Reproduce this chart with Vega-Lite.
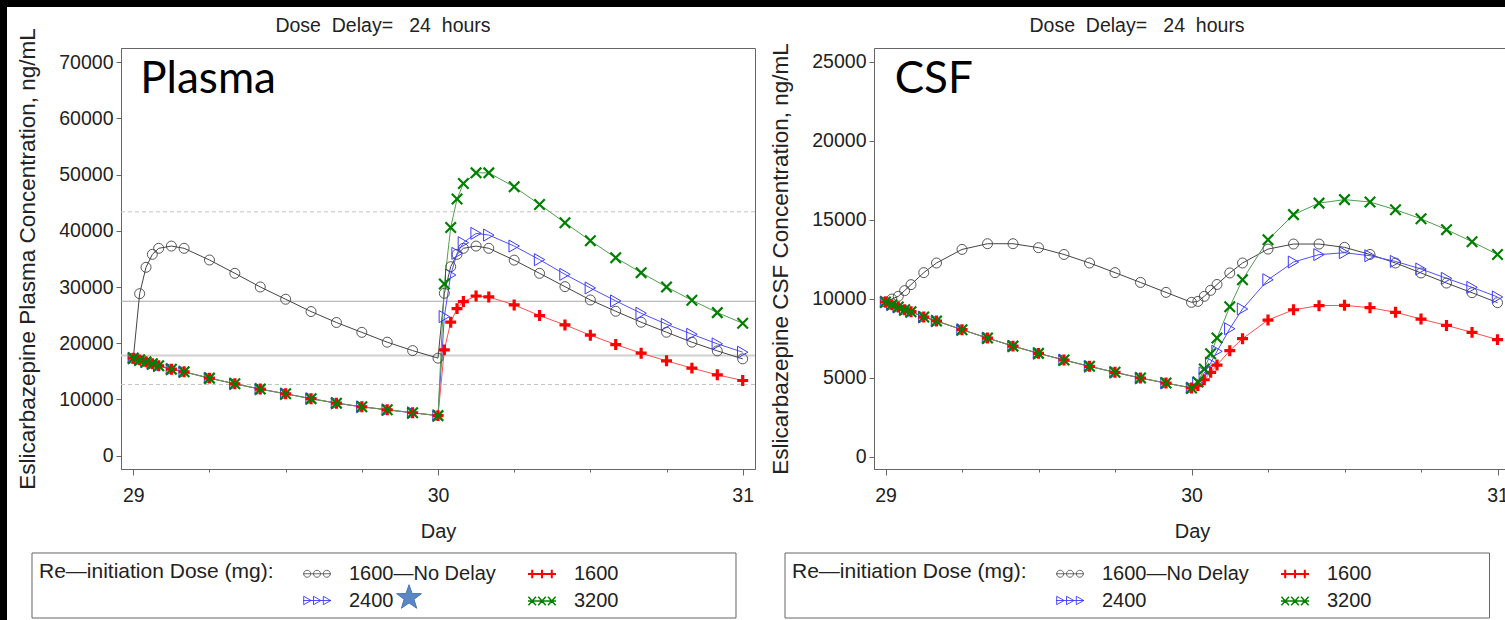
{"$schema":"https://vega.github.io/schema/vega-lite/v6.json","background":"white","padding":{"left":-1,"top":-1,"right":0,"bottom":0},"autosize":{"type":"pad"},"bounds":"flush","spacing":119,
"config":{"font":"Liberation Sans","view":{"stroke":"#666","strokeWidth":1},
"axis":{"grid":false,"domainColor":"#666","tickColor":"#666","labelColor":"#222","titleColor":"#222","labelFontSize":19.5,"titleFontSize":22.5,"titleFontWeight":"normal","labelFont":"Liberation Sans","titleFont":"Liberation Sans","labelOverlap":false},
"legend":{"orient":"none","legendX":-88,"legendY":505,"columns":2,"titleOrient":"left","titleAnchor":"middle","titleLineHeight":27,"titleFontSize":21,"titleFontWeight":"normal","titleColor":"#222","titlePadding":28,"titleLimit":400,"labelFontSize":20,"labelColor":"#222","labelLimit":400,"labelOffset":17,"columnPadding":28,"rowPadding":2,"padding":6,"symbolSize":784,"gridAlign":"all"}},
"datasets":{
"plasma":[
{"day":29,"s":"1600—No Delay","conc":17300},{"day":29.0208,"s":"1600—No Delay","conc":28830},{"day":29.0417,"s":"1600—No Delay","conc":33520},{"day":29.0625,"s":"1600—No Delay","conc":35830},{"day":29.0833,"s":"1600—No Delay","conc":36900},{"day":29.125,"s":"1600—No Delay","conc":37300},{"day":29.1667,"s":"1600—No Delay","conc":36900},{"day":29.25,"s":"1600—No Delay","conc":34820},{"day":29.3333,"s":"1600—No Delay","conc":32450},{"day":29.4167,"s":"1600—No Delay","conc":30020},{"day":29.5,"s":"1600—No Delay","conc":27840},{"day":29.5833,"s":"1600—No Delay","conc":25650},{"day":29.6667,"s":"1600—No Delay","conc":23700},{"day":29.75,"s":"1600—No Delay","conc":21950},{"day":29.8333,"s":"1600—No Delay","conc":20200},{"day":29.9167,"s":"1600—No Delay","conc":18700},{"day":30,"s":"1600—No Delay","conc":17360},{"day":30.0208,"s":"1600—No Delay","conc":28900},{"day":30.0417,"s":"1600—No Delay","conc":33630},{"day":30.0625,"s":"1600—No Delay","conc":35830},{"day":30.0833,"s":"1600—No Delay","conc":36900},{"day":30.125,"s":"1600—No Delay","conc":37300},{"day":30.1667,"s":"1600—No Delay","conc":36900},{"day":30.25,"s":"1600—No Delay","conc":34800},{"day":30.3333,"s":"1600—No Delay","conc":32450},{"day":30.4167,"s":"1600—No Delay","conc":30080},{"day":30.5,"s":"1600—No Delay","conc":27710},{"day":30.5833,"s":"1600—No Delay","conc":25700},{"day":30.6667,"s":"1600—No Delay","conc":23750},{"day":30.75,"s":"1600—No Delay","conc":21970},{"day":30.8333,"s":"1600—No Delay","conc":20200},{"day":30.9167,"s":"1600—No Delay","conc":18650},{"day":31,"s":"1600—No Delay","conc":17230},
{"day":29,"s":"2400","conc":17360},{"day":29.0208,"s":"2400","conc":17050},{"day":29.0417,"s":"2400","conc":16700},{"day":29.0625,"s":"2400","conc":16350},{"day":29.0833,"s":"2400","conc":16000},{"day":29.125,"s":"2400","conc":15400},{"day":29.1667,"s":"2400","conc":14920},{"day":29.25,"s":"2400","conc":13800},{"day":29.3333,"s":"2400","conc":12790},{"day":29.4167,"s":"2400","conc":11850},{"day":29.5,"s":"2400","conc":11010},{"day":29.5833,"s":"2400","conc":10150},{"day":29.6667,"s":"2400","conc":9350},{"day":29.75,"s":"2400","conc":8700},{"day":29.8333,"s":"2400","conc":8170},{"day":29.9167,"s":"2400","conc":7640},{"day":30,"s":"2400","conc":7130},{"day":30.0208,"s":"2400","conc":24750},{"day":30.0417,"s":"2400","conc":32150},{"day":30.0625,"s":"2400","conc":36000},{"day":30.0833,"s":"2400","conc":37900},{"day":30.125,"s":"2400","conc":39560},{"day":30.1667,"s":"2400","conc":39260},{"day":30.25,"s":"2400","conc":37300},{"day":30.3333,"s":"2400","conc":34880},{"day":30.4167,"s":"2400","conc":32270},{"day":30.5,"s":"2400","conc":29850},{"day":30.5833,"s":"2400","conc":27540},{"day":30.6667,"s":"2400","conc":25350},{"day":30.75,"s":"2400","conc":23390},{"day":30.8333,"s":"2400","conc":21610},{"day":30.9167,"s":"2400","conc":19900},{"day":31,"s":"2400","conc":18420},
{"day":29,"s":"1600","conc":17360},{"day":29.0208,"s":"1600","conc":17050},{"day":29.0417,"s":"1600","conc":16700},{"day":29.0625,"s":"1600","conc":16350},{"day":29.0833,"s":"1600","conc":16000},{"day":29.125,"s":"1600","conc":15400},{"day":29.1667,"s":"1600","conc":14920},{"day":29.25,"s":"1600","conc":13800},{"day":29.3333,"s":"1600","conc":12790},{"day":29.4167,"s":"1600","conc":11850},{"day":29.5,"s":"1600","conc":11010},{"day":29.5833,"s":"1600","conc":10150},{"day":29.6667,"s":"1600","conc":9350},{"day":29.75,"s":"1600","conc":8700},{"day":29.8333,"s":"1600","conc":8170},{"day":29.9167,"s":"1600","conc":7640},{"day":30,"s":"1600","conc":7130},{"day":30.0208,"s":"1600","conc":18830},{"day":30.0417,"s":"1600","conc":23750},{"day":30.0625,"s":"1600","conc":26170},{"day":30.0833,"s":"1600","conc":27420},{"day":30.125,"s":"1600","conc":28420},{"day":30.1667,"s":"1600","conc":28250},{"day":30.25,"s":"1600","conc":26830},{"day":30.3333,"s":"1600","conc":24930},{"day":30.4167,"s":"1600","conc":23270},{"day":30.5,"s":"1600","conc":21440},{"day":30.5833,"s":"1600","conc":19780},{"day":30.6667,"s":"1600","conc":18240},{"day":30.75,"s":"1600","conc":16880},{"day":30.8333,"s":"1600","conc":15580},{"day":30.9167,"s":"1600","conc":14390},{"day":31,"s":"1600","conc":13380},
{"day":29,"s":"3200","conc":17360},{"day":29.0208,"s":"3200","conc":17050},{"day":29.0417,"s":"3200","conc":16700},{"day":29.0625,"s":"3200","conc":16350},{"day":29.0833,"s":"3200","conc":16000},{"day":29.125,"s":"3200","conc":15400},{"day":29.1667,"s":"3200","conc":14920},{"day":29.25,"s":"3200","conc":13800},{"day":29.3333,"s":"3200","conc":12790},{"day":29.4167,"s":"3200","conc":11850},{"day":29.5,"s":"3200","conc":11010},{"day":29.5833,"s":"3200","conc":10150},{"day":29.6667,"s":"3200","conc":9350},{"day":29.75,"s":"3200","conc":8700},{"day":29.8333,"s":"3200","conc":8170},{"day":29.9167,"s":"3200","conc":7640},{"day":30,"s":"3200","conc":7130},{"day":30.0208,"s":"3200","conc":30560},{"day":30.0417,"s":"3200","conc":40620},{"day":30.0625,"s":"3200","conc":45660},{"day":30.0833,"s":"3200","conc":48440},{"day":30.125,"s":"3200","conc":50330},{"day":30.1667,"s":"3200","conc":50330},{"day":30.25,"s":"3200","conc":47850},{"day":30.3333,"s":"3200","conc":44700},{"day":30.4167,"s":"3200","conc":41450},{"day":30.5,"s":"3200","conc":38250},{"day":30.5833,"s":"3200","conc":35230},{"day":30.6667,"s":"3200","conc":32570},{"day":30.75,"s":"3200","conc":30020},{"day":30.8333,"s":"3200","conc":27660},{"day":30.9167,"s":"3200","conc":25460},{"day":31,"s":"3200","conc":23570}],
"csf":[
{"day":29,"s":"1600—No Delay","conc":9790},{"day":29.0208,"s":"1600—No Delay","conc":9980},{"day":29.0417,"s":"1600—No Delay","conc":10150},{"day":29.0625,"s":"1600—No Delay","conc":10510},{"day":29.0833,"s":"1600—No Delay","conc":10890},{"day":29.125,"s":"1600—No Delay","conc":11650},{"day":29.1667,"s":"1600—No Delay","conc":12260},{"day":29.25,"s":"1600—No Delay","conc":13120},{"day":29.3333,"s":"1600—No Delay","conc":13480},{"day":29.4167,"s":"1600—No Delay","conc":13480},{"day":29.5,"s":"1600—No Delay","conc":13230},{"day":29.5833,"s":"1600—No Delay","conc":12800},{"day":29.6667,"s":"1600—No Delay","conc":12260},{"day":29.75,"s":"1600—No Delay","conc":11650},{"day":29.8333,"s":"1600—No Delay","conc":11030},{"day":29.9167,"s":"1600—No Delay","conc":10400},{"day":30,"s":"1600—No Delay","conc":9770},{"day":30.0208,"s":"1600—No Delay","conc":9830},{"day":30.0417,"s":"1600—No Delay","conc":10150},{"day":30.0625,"s":"1600—No Delay","conc":10530},{"day":30.0833,"s":"1600—No Delay","conc":10900},{"day":30.125,"s":"1600—No Delay","conc":11630},{"day":30.1667,"s":"1600—No Delay","conc":12260},{"day":30.25,"s":"1600—No Delay","conc":13140},{"day":30.3333,"s":"1600—No Delay","conc":13460},{"day":30.4167,"s":"1600—No Delay","conc":13460},{"day":30.5,"s":"1600—No Delay","conc":13250},{"day":30.5833,"s":"1600—No Delay","conc":12800},{"day":30.6667,"s":"1600—No Delay","conc":12260},{"day":30.75,"s":"1600—No Delay","conc":11630},{"day":30.8333,"s":"1600—No Delay","conc":10990},{"day":30.9167,"s":"1600—No Delay","conc":10380},{"day":31,"s":"1600—No Delay","conc":9750},
{"day":29,"s":"2400","conc":9790},{"day":29.0208,"s":"2400","conc":9620},{"day":29.0417,"s":"2400","conc":9470},{"day":29.0625,"s":"2400","conc":9300},{"day":29.0833,"s":"2400","conc":9180},{"day":29.125,"s":"2400","conc":8840},{"day":29.1667,"s":"2400","conc":8590},{"day":29.25,"s":"2400","conc":8040},{"day":29.3333,"s":"2400","conc":7510},{"day":29.4167,"s":"2400","conc":7000},{"day":29.5,"s":"2400","conc":6540},{"day":29.5833,"s":"2400","conc":6120},{"day":29.6667,"s":"2400","conc":5720},{"day":29.75,"s":"2400","conc":5340},{"day":29.8333,"s":"2400","conc":4980},{"day":29.9167,"s":"2400","conc":4660},{"day":30,"s":"2400","conc":4350},{"day":30.0208,"s":"2400","conc":4660},{"day":30.0417,"s":"2400","conc":5300},{"day":30.0625,"s":"2400","conc":5930},{"day":30.0833,"s":"2400","conc":6670},{"day":30.125,"s":"2400","conc":8100},{"day":30.1667,"s":"2400","conc":9350},{"day":30.25,"s":"2400","conc":11200},{"day":30.3333,"s":"2400","conc":12320},{"day":30.4167,"s":"2400","conc":12790},{"day":30.5,"s":"2400","conc":12910},{"day":30.5833,"s":"2400","conc":12720},{"day":30.6667,"s":"2400","conc":12360},{"day":30.75,"s":"2400","conc":11880},{"day":30.8333,"s":"2400","conc":11290},{"day":30.9167,"s":"2400","conc":10720},{"day":31,"s":"2400","conc":10110},
{"day":29,"s":"1600","conc":9790},{"day":29.0208,"s":"1600","conc":9620},{"day":29.0417,"s":"1600","conc":9470},{"day":29.0625,"s":"1600","conc":9300},{"day":29.0833,"s":"1600","conc":9180},{"day":29.125,"s":"1600","conc":8840},{"day":29.1667,"s":"1600","conc":8590},{"day":29.25,"s":"1600","conc":8040},{"day":29.3333,"s":"1600","conc":7510},{"day":29.4167,"s":"1600","conc":7000},{"day":29.5,"s":"1600","conc":6540},{"day":29.5833,"s":"1600","conc":6120},{"day":29.6667,"s":"1600","conc":5720},{"day":29.75,"s":"1600","conc":5340},{"day":29.8333,"s":"1600","conc":4980},{"day":29.9167,"s":"1600","conc":4660},{"day":30,"s":"1600","conc":4350},{"day":30.0208,"s":"1600","conc":4510},{"day":30.0417,"s":"1600","conc":4870},{"day":30.0625,"s":"1600","conc":5340},{"day":30.0833,"s":"1600","conc":5800},{"day":30.125,"s":"1600","conc":6710},{"day":30.1667,"s":"1600","conc":7470},{"day":30.25,"s":"1600","conc":8650},{"day":30.3333,"s":"1600","conc":9300},{"day":30.4167,"s":"1600","conc":9560},{"day":30.5,"s":"1600","conc":9580},{"day":30.5833,"s":"1600","conc":9430},{"day":30.6667,"s":"1600","conc":9140},{"day":30.75,"s":"1600","conc":8710},{"day":30.8333,"s":"1600","conc":8310},{"day":30.9167,"s":"1600","conc":7870},{"day":31,"s":"1600","conc":7410},
{"day":29,"s":"3200","conc":9790},{"day":29.0208,"s":"3200","conc":9620},{"day":29.0417,"s":"3200","conc":9470},{"day":29.0625,"s":"3200","conc":9300},{"day":29.0833,"s":"3200","conc":9180},{"day":29.125,"s":"3200","conc":8840},{"day":29.1667,"s":"3200","conc":8590},{"day":29.25,"s":"3200","conc":8040},{"day":29.3333,"s":"3200","conc":7510},{"day":29.4167,"s":"3200","conc":7000},{"day":29.5,"s":"3200","conc":6540},{"day":29.5833,"s":"3200","conc":6120},{"day":29.6667,"s":"3200","conc":5720},{"day":29.75,"s":"3200","conc":5340},{"day":29.8333,"s":"3200","conc":4980},{"day":29.9167,"s":"3200","conc":4660},{"day":30,"s":"3200","conc":4350},{"day":30.0208,"s":"3200","conc":4730},{"day":30.0417,"s":"3200","conc":5550},{"day":30.0625,"s":"3200","conc":6520},{"day":30.0833,"s":"3200","conc":7510},{"day":30.125,"s":"3200","conc":9490},{"day":30.1667,"s":"3200","conc":11200},{"day":30.25,"s":"3200","conc":13730},{"day":30.3333,"s":"3200","conc":15320},{"day":30.4167,"s":"3200","conc":16050},{"day":30.5,"s":"3200","conc":16270},{"day":30.5833,"s":"3200","conc":16120},{"day":30.6667,"s":"3200","conc":15630},{"day":30.75,"s":"3200","conc":15060},{"day":30.8333,"s":"3200","conc":14370},{"day":30.9167,"s":"3200","conc":13610},{"day":31,"s":"3200","conc":12800}]},
"hconcat":[
{"width":634,"height":421,
"encoding":{"x":{"field":"day","type":"quantitative","scale":{"domain":[28.9596,31.0404],"nice":false,"zero":false},"axis":{"title":"Day","titleFontSize":20,"values":[29,29.25,29.5,29.75,30,30.25,30.5,30.75,31],"tickCount":100,"tickSize":{"condition":{"test":"datum.value%1==0","value":6},"value":3},"labelExpr":"datum.value%1==0?''+datum.value:''","labelFlush":false,"labelPadding":11,"titlePadding":17}},
"y":{"field":"conc","type":"quantitative","scale":{"domain":[-2367,72544],"nice":false,"zero":false},"axis":{"title":"Eslicarbazepine Plasma Concentration, ng/mL","values":[0,10000,20000,30000,40000,50000,60000,70000],"format":"d","tickSize":5,"labelPadding":3,"titlePadding":19}}},
"layer":[
{"data":{"values":[{"day":28.5625,"day2":33.52,"conc":81085,"conc2":79840},{"day":28.5625,"day2":28.5855,"conc":81085,"conc2":-29235}]},"mark":{"type":"rect","color":"black"},"encoding":{"x2":{"field":"day2"},"y2":{"field":"conc2"}}},
{"data":{"values":[{"day":28.6675,"day2":30.978,"conc":-17313,"conc2":-28879}]},"mark":{"type":"rect","fill":null,"stroke":"#666","strokeWidth":1},"encoding":{"x2":{"field":"day2"},"y2":{"field":"conc2"}}},
{"data":{"values":[{"conc":43400},{"conc":12670}]},"mark":{"type":"rule","color":"#c4c4c4","strokeDash":[4,3],"strokeWidth":1},"encoding":{"x":null}},
{"data":{"values":[{"conc":27480}]},"mark":{"type":"rule","color":"#a8a8a8","strokeWidth":1},"encoding":{"x":null}},
{"data":{"values":[{"conc":17820}]},"mark":{"type":"rule","color":"#cfcfcf","strokeWidth":2},"encoding":{"x":null}},
{"data":{"name":"plasma"},"mark":{"type":"line","strokeWidth":1},"encoding":{"color":{"field":"s","type":"nominal","legend":null,"scale":{"domain":["1600—No Delay","1600","2400","3200"],"range":["#444444","#ff5050","#5050ff","#4f9f4f"]}}}},
{"data":{"name":"plasma"},"mark":{"type":"point","filled":false,"opacity":1},"encoding":{"color":{"field":"s","type":"nominal","legend":null,"scale":{"domain":["1600—No Delay","1600","2400","3200"],"range":["#444444","#ff0000","#3a3aff","#008000"]}},"shape":{"field":"s","type":"nominal","legend":null,"scale":{"domain":["1600—No Delay","1600","2400","3200"],"range":["circle","M-1,0L1,0M0,-1L0,1","triangle-right","M-1,-1L1,1M-1,1L1,-1"]}},"size":{"field":"s","type":"nominal","legend":null,"scale":{"type":"ordinal","domain":["1600—No Delay","1600","2400","3200"],"range":[100,120,144,110]}},"strokeWidth":{"field":"s","type":"nominal","legend":null,"scale":{"type":"ordinal","domain":["1600—No Delay","1600","2400","3200"],"range":[0.9,3.2,1,2.2]}}}},
{"data":{"values":[{"day":29.023,"conc":66900,"label":"Plasma"}]},"mark":{"type":"text","font":"Lato","fontSize":44,"align":"left","baseline":"middle","color":"black"},"encoding":{"text":{"field":"label"}}},
{"data":{"values":[{"day":29.8195,"conc":76460,"label":"Dose\u00a0\u00a0Delay=\u00a0\u00a0\u00a024\u00a0\u00a0hours"}]},"mark":{"type":"text","fontSize":19.5,"color":"#222"},"encoding":{"text":{"field":"label"}}},
{"data":{"values":[{"day":29.905,"conc":-25270}]},"mark":{"type":"point","shape":"M0,-1L0.235,-0.324L0.951,-0.309L0.38,0.124L0.588,0.809L0,0.4L-0.588,0.809L-0.38,0.124L-0.951,-0.309L-0.235,-0.324Z","filled":true,"size":676,"color":"#5b87c6","opacity":1,"stroke":"#4a76b5","strokeWidth":1}},
{"data":{"name":"plasma"},"transform":[{"filter":"false"}],"mark":{"type":"point","filled":false,"opacity":1},"encoding":{"color":{"field":"s","type":"nominal","title":["Re—initiation Dose (mg):"," "],"scale":{"domain":["1600—No Delay","2400","1600","3200"],"range":["#444444","#3a3aff","#ff0000","#008000"]}},"shape":{"field":"s","type":"nominal","title":["Re—initiation Dose (mg):"," "],"scale":{"domain":["1600—No Delay","2400","1600","3200"],"range":["M-1,0L1,0M-.95,0A.25,.25 0 1,1 -.45,0A.25,.25 0 1,1 -.95,0M-.25,0A.25,.25 0 1,1 .25,0A.25,.25 0 1,1 -.25,0M.45,0A.25,.25 0 1,1 .95,0A.25,.25 0 1,1 .45,0","M-1,0L1,0M-.95,-.3L-.42,0L-.95,.3ZM-.25,-.3L.28,0L-.25,.3ZM.45,-.3L.98,0L.45,.3Z","M-1,0L1,0M-.7,-.3L-.7,.3M0,-.3L0,.3M.7,-.3L.7,.3","M-1,0L1,0M-.97,-.3L-.43,.3M-.97,.3L-.43,-.3M-.27,-.3L.27,.3M-.27,.3L.27,-.3M.43,-.3L.97,.3M.43,.3L.97,-.3"]}},"strokeWidth":{"field":"s","type":"nominal","title":["Re—initiation Dose (mg):"," "],"scale":{"type":"ordinal","domain":["1600—No Delay","2400","1600","3200"],"range":[0.8,0.9,2,1.5]}}}}
],
"resolve":{"scale":{"color":"independent","shape":"independent","size":"independent","strokeWidth":"independent"}}},
{"width":636,"height":421,
"encoding":{"x":{"field":"day","type":"quantitative","scale":{"domain":[28.9624,31.0408],"nice":false,"zero":false},"axis":{"title":"Day","titleFontSize":20,"values":[29,29.25,29.5,29.75,30,30.25,30.5,30.75,31],"tickCount":100,"tickSize":{"condition":{"test":"datum.value%1==0","value":6},"value":3},"labelExpr":"datum.value%1==0?''+datum.value:''","labelFlush":false,"labelPadding":11,"titlePadding":17}},
"y":{"field":"conc","type":"quantitative","scale":{"domain":[-778,25867],"nice":false,"zero":false},"axis":{"title":"Eslicarbazepine CSF Concentration, ng/mL","values":[0,5000,10000,15000,20000,25000],"format":"d","tickSize":5,"labelPadding":3,"titlePadding":19}}},
"layer":[
{"data":{"values":[{"day":28.6716,"day2":30.9739,"conc":-6095,"conc2":-10209}]},"mark":{"type":"rect","fill":null,"stroke":"#666","strokeWidth":1},"encoding":{"x2":{"field":"day2"},"y2":{"field":"conc2"}}},
{"data":{"name":"csf"},"mark":{"type":"line","strokeWidth":1},"encoding":{"color":{"field":"s","type":"nominal","legend":null,"scale":{"domain":["1600—No Delay","1600","2400","3200"],"range":["#444444","#ff5050","#5050ff","#4f9f4f"]}}}},
{"data":{"name":"csf"},"mark":{"type":"point","filled":false,"opacity":1},"encoding":{"color":{"field":"s","type":"nominal","legend":null,"scale":{"domain":["1600—No Delay","1600","2400","3200"],"range":["#444444","#ff0000","#3a3aff","#008000"]}},"shape":{"field":"s","type":"nominal","legend":null,"scale":{"domain":["1600—No Delay","1600","2400","3200"],"range":["circle","M-1,0L1,0M0,-1L0,1","triangle-right","M-1,-1L1,1M-1,1L1,-1"]}},"size":{"field":"s","type":"nominal","legend":null,"scale":{"type":"ordinal","domain":["1600—No Delay","1600","2400","3200"],"range":[100,120,144,110]}},"strokeWidth":{"field":"s","type":"nominal","legend":null,"scale":{"type":"ordinal","domain":["1600—No Delay","1600","2400","3200"],"range":[0.9,3.2,1,2.2]}}}},
{"data":{"values":[{"day":29.03,"conc":23860,"label":"CSF"}]},"mark":{"type":"text","font":"Lato","fontSize":44,"align":"left","baseline":"middle","color":"black"},"encoding":{"text":{"field":"label"}}},
{"data":{"values":[{"day":29.822,"conc":27260,"label":"Dose\u00a0\u00a0Delay=\u00a0\u00a0\u00a024\u00a0\u00a0hours"}]},"mark":{"type":"text","fontSize":19.5,"color":"#222"},"encoding":{"text":{"field":"label"}}},
{"data":{"name":"csf"},"transform":[{"filter":"false"}],"mark":{"type":"point","filled":false,"opacity":1},"encoding":{"color":{"field":"s","type":"nominal","title":["Re—initiation Dose (mg):"," "],"scale":{"domain":["1600—No Delay","2400","1600","3200"],"range":["#444444","#3a3aff","#ff0000","#008000"]}},"shape":{"field":"s","type":"nominal","title":["Re—initiation Dose (mg):"," "],"scale":{"domain":["1600—No Delay","2400","1600","3200"],"range":["M-1,0L1,0M-.95,0A.25,.25 0 1,1 -.45,0A.25,.25 0 1,1 -.95,0M-.25,0A.25,.25 0 1,1 .25,0A.25,.25 0 1,1 -.25,0M.45,0A.25,.25 0 1,1 .95,0A.25,.25 0 1,1 .45,0","M-1,0L1,0M-.95,-.3L-.42,0L-.95,.3ZM-.25,-.3L.28,0L-.25,.3ZM.45,-.3L.98,0L.45,.3Z","M-1,0L1,0M-.7,-.3L-.7,.3M0,-.3L0,.3M.7,-.3L.7,.3","M-1,0L1,0M-.97,-.3L-.43,.3M-.97,.3L-.43,-.3M-.27,-.3L.27,.3M-.27,.3L.27,-.3M.43,-.3L.97,.3M.43,.3L.97,-.3"]}},"strokeWidth":{"field":"s","type":"nominal","title":["Re—initiation Dose (mg):"," "],"scale":{"type":"ordinal","domain":["1600—No Delay","2400","1600","3200"],"range":[0.8,0.9,2,1.5]}}}}
],
"resolve":{"scale":{"color":"independent","shape":"independent","size":"independent","strokeWidth":"independent"}}}
]}
